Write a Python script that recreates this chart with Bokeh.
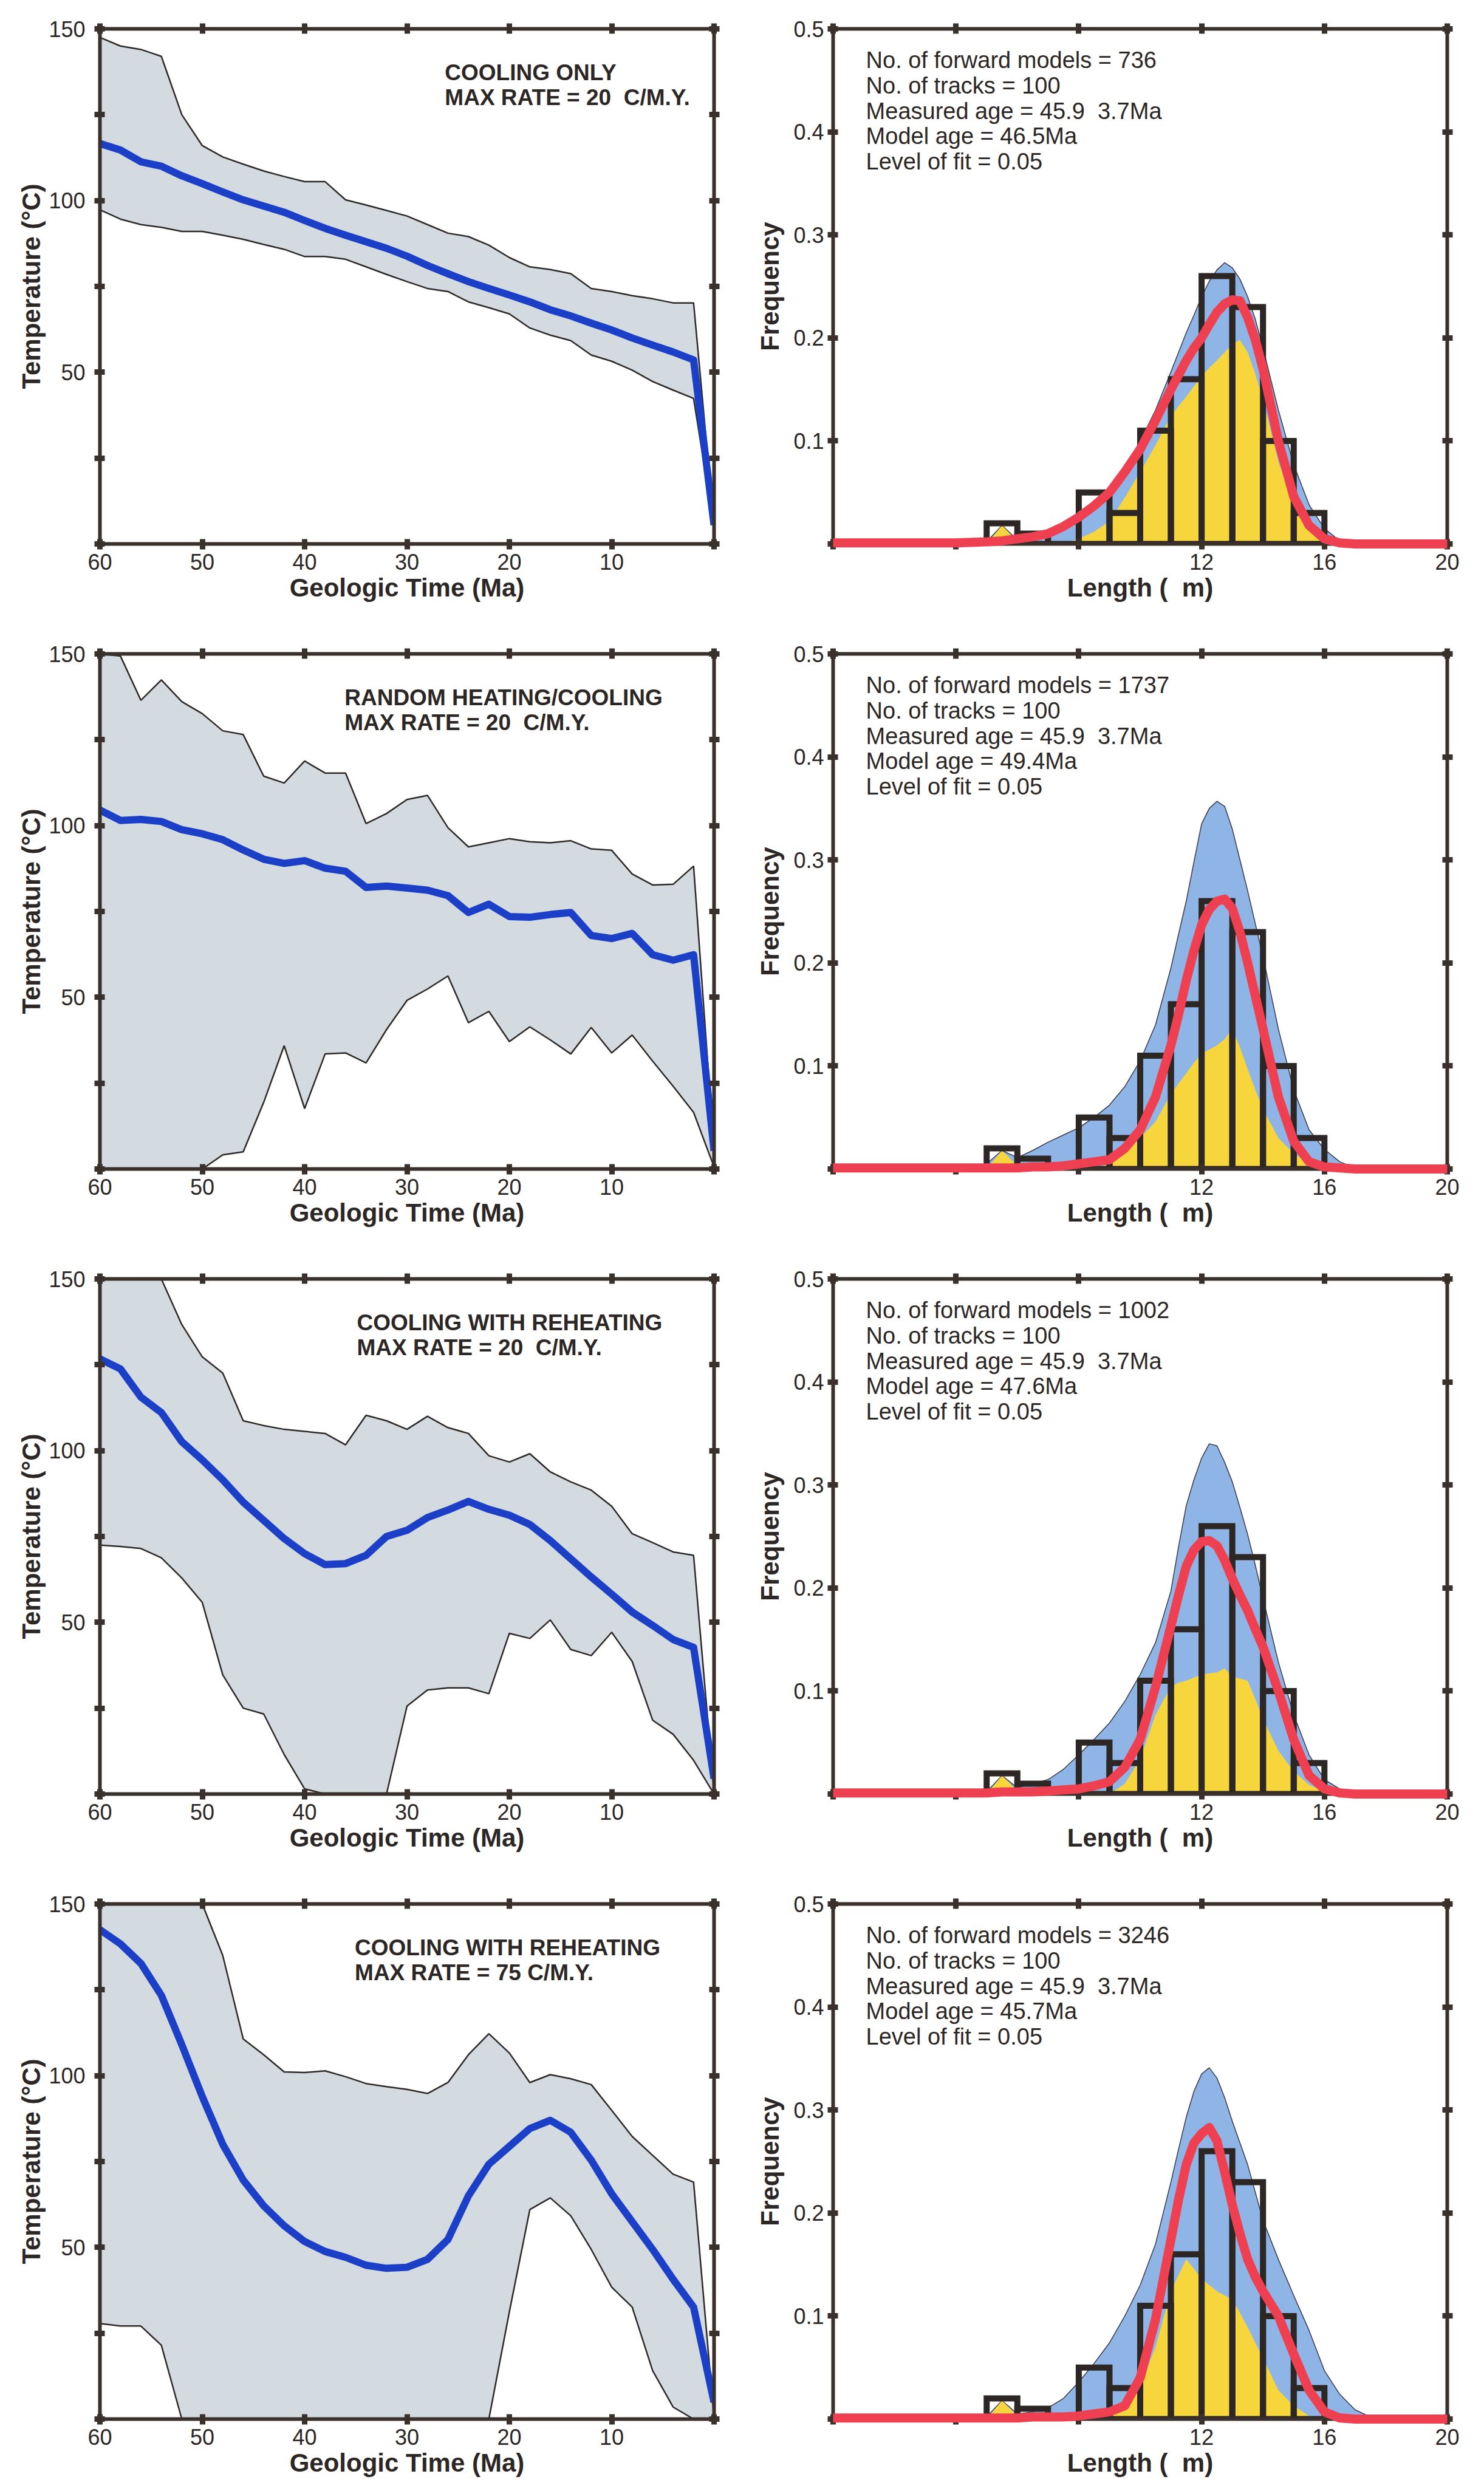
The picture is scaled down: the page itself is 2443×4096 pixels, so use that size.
from bokeh.plotting import figure
from bokeh.layouts import column, row
from bokeh.models import Range1d, LinearAxis, FixedTicker, Label
from bokeh.embed import file_html
from bokeh.resources import INLINE

# ---------------- data: thermal histories (left column) ----------------
TIME_MA = [60, 58, 56, 54, 52, 50, 48, 46, 44, 42, 40, 38, 36, 34, 32, 30,
           28, 26, 24, 22, 20, 18, 16, 14, 12, 10, 8, 6, 4, 2, 0]

P1_UPPER = [147.5, 145, 144, 142, 125, 116, 112.7, 110.6, 108.6, 107, 105.5, 105.5, 100.2, 98.7, 97.1, 95.5,
            93, 90.5, 89.5, 87, 83.4, 80.7, 79.9, 78.7, 74.4, 73.5, 72.3, 71.4, 70.2, 70.2, 5.5]
P1_LOWER = [97.3, 94.6, 93, 92.2, 91, 91, 89.9, 88.7, 87.2, 85.8, 83.7, 83.7, 82.9, 80.7, 78.5, 76.4,
            74.4, 73.5, 70.5, 68.8, 67, 62.9, 60.8, 59.2, 55, 53.2, 50.6, 47.3, 44.8, 42.4, 5]
P1_MEAN = [116.6, 114.7, 111.3, 110, 107.2, 104.9, 102.5, 100.2, 98.4, 96.6, 94.2, 91.9, 89.9, 88, 86.1, 83.8,
           81.1, 78.7, 76.4, 74.4, 72.5, 70.5, 68.2, 66.4, 64.3, 62.3, 60, 57.9, 55.9, 53.6, 5.5]

P2_UPPER = [150, 149.4, 136.5, 142.4, 136.1, 132.6, 127.6, 126.5, 114.4, 112.4, 118.8, 115.3, 115.3, 100.6, 103.5, 107.6,
            108.8, 99.4, 93.8, 95, 96.2, 95.3, 95, 95.6, 93.2, 92.8, 85.9, 82.7, 82.9, 88.2, 5.3]
P2_LOWER = [0, 0, 0, 0, 0, 0, 4.1, 5, 19.4, 35.9, 17.6, 33.5, 33.8, 30.9, 40.6, 49.1,
            52.4, 56.2, 42.6, 45.9, 37.1, 41.4, 37.6, 33.5, 41.2, 33.8, 39, 31.4, 24.1, 16.5, 0.6]
P2_MEAN = [104.5, 101.5, 101.8, 101.2, 98.8, 97.6, 95.9, 92.9, 90.2, 89, 89.8, 87.6, 86.7, 82, 82.4, 81.8,
           81.2, 79.6, 74.7, 77.1, 73.5, 73.3, 74.1, 74.7, 68, 67.1, 68.6, 62.4, 60.8, 62.4, 5.3]

P3_UPPER = [150, 150, 150, 150, 136.7, 127.3, 122.6, 108.7, 107.3, 106.2, 105.6, 105, 101.7, 110.3, 108.7, 106.2,
            110, 106.7, 105, 98.5, 96.7, 99.1, 93.8, 90.9, 88.5, 83.8, 75.8, 73.2, 70.5, 69.5, 0.3]
P3_LOWER = [72.5, 72.1, 71.5, 68.8, 62.9, 55.8, 34.7, 25, 23.3, 11.5, 1.5, 0, 0, 0, 0, 25.6,
            30.3, 30.9, 30.9, 29.2, 46.8, 45.3, 50.7, 42.1, 40.3, 47.1, 38.6, 21.5, 17.4, 9.8, 0]
P3_MEAN = [126.7, 123.8, 115.6, 111.1, 102.6, 97.3, 91.5, 85, 79.7, 74.4, 70, 66.8, 67.1, 69.5, 75, 76.8,
           80.5, 82.7, 85.2, 82.9, 81.2, 78.5, 73.8, 68.5, 63.2, 58.2, 53, 49.1, 45, 42.7, 4.5]

P4_UPPER = [150, 150, 150, 150, 150, 150, 135, 110.7, 106.1, 101.1, 100.9, 101.4, 99.7, 97.7, 96.8, 96,
            94.8, 98, 106.1, 112.2, 106.6, 98, 100.3, 99.1, 97.4, 89.9, 82.3, 76.8, 71.3, 69, 0.2]
P4_LOWER = [27.8, 27.1, 27.1, 21.5, 0, 0, 0, 0, 0, 0, 0, 0, 0, 0, 0, 0,
            0, 0, 0, 0, 31.2, 61, 64.4, 59.2, 49.4, 38.4, 32.6, 14.1, 3.5, 0, 0]
P4_MEAN = [142.5, 138.4, 132.7, 123.4, 109, 93.9, 80, 69.6, 62.1, 56.3, 51.7, 48.8, 47.1, 44.8, 43.9, 44.2,
           46.5, 52.3, 65, 74.2, 79.4, 84.6, 87, 83.5, 75.4, 65.6, 57.5, 49.4, 40.7, 32.6, 4.9]

# ---------------- data: track-length distributions (right column) ----------------
LENGTH_UM = [0, 4, 5, 5.5, 6, 6.5, 7, 7.5, 8, 8.5, 9, 9.5, 10, 10.5, 11, 11.25, 11.5, 11.75,
             12, 12.25, 12.5, 12.75, 13, 13.25, 13.5, 13.75, 14, 14.5, 15, 15.5, 16, 16.5, 17, 17.5, 18, 20]

R1_UPPER = [0, 0, 0.002, 0.018, 0.004, 0.006, 0.01, 0.015, 0.022, 0.035, 0.05, 0.072, 0.10, 0.13, 0.167, 0.186, 0.205, 0.222,
            0.24, 0.255, 0.266, 0.273, 0.268, 0.257, 0.24, 0.218, 0.19, 0.13, 0.077, 0.038, 0.015, 0.003, 0, 0, 0, 0]
R1_LOWER = [0, 0, 0, 0.018, 0.002, 0, 0, 0, 0.005, 0.012, 0.022, 0.045, 0.07, 0.096, 0.124, 0.134, 0.143, 0.153,
            0.163, 0.171, 0.178, 0.186, 0.194, 0.198, 0.186, 0.165, 0.14, 0.08, 0.038, 0.014, 0.003, 0, 0, 0, 0, 0]
R1_FIT = [0.001, 0.001, 0.002, 0.003, 0.005, 0.007, 0.01, 0.017, 0.026, 0.037, 0.05, 0.07, 0.092, 0.12, 0.15, 0.164, 0.178, 0.19,
          0.20, 0.213, 0.225, 0.233, 0.237, 0.236, 0.22, 0.198, 0.17, 0.10, 0.046, 0.018, 0.005, 0.001, 0, 0, 0, 0]

R2_UPPER = [0, 0, 0.005, 0.018, 0.011, 0.018, 0.026, 0.033, 0.04, 0.05, 0.062, 0.08, 0.105, 0.14, 0.195, 0.228, 0.26, 0.298,
            0.335, 0.35, 0.357, 0.352, 0.33, 0.30, 0.27, 0.238, 0.206, 0.136, 0.077, 0.038, 0.019, 0.007, 0.001, 0, 0, 0]
R2_LOWER = [0, 0, 0, 0.018, 0.003, 0, 0, 0, 0, 0, 0.005, 0.015, 0.03, 0.046, 0.073, 0.083, 0.093, 0.103,
            0.112, 0.116, 0.12, 0.126, 0.136, 0.118, 0.097, 0.077, 0.058, 0.03, 0.015, 0.005, 0, 0, 0, 0, 0, 0]
R2_FIT = [0.001, 0.001, 0.001, 0.001, 0.001, 0.002, 0.002, 0.003, 0.005, 0.007, 0.009, 0.02, 0.038, 0.07, 0.12, 0.15, 0.183, 0.212,
          0.237, 0.252, 0.26, 0.262, 0.253, 0.23, 0.20, 0.168, 0.136, 0.07, 0.027, 0.007, 0.002, 0.001, 0, 0, 0, 0]

R3_UPPER = [0, 0, 0.002, 0.018, 0.006, 0.01, 0.014, 0.024, 0.038, 0.053, 0.069, 0.09, 0.116, 0.147, 0.197, 0.24, 0.28, 0.305,
            0.326, 0.34, 0.338, 0.322, 0.303, 0.278, 0.252, 0.222, 0.19, 0.128, 0.077, 0.038, 0.014, 0.005, 0.001, 0, 0, 0]
R3_LOWER = [0, 0, 0, 0.018, 0.003, 0, 0, 0, 0, 0, 0, 0.01, 0.034, 0.077, 0.104, 0.108, 0.11, 0.113,
            0.116, 0.117, 0.118, 0.122, 0.114, 0.112, 0.11, 0.092, 0.073, 0.042, 0.022, 0.009, 0.002, 0, 0, 0, 0, 0]
R3_FIT = [0.001, 0.001, 0.001, 0.002, 0.002, 0.002, 0.003, 0.004, 0.005, 0.008, 0.012, 0.026, 0.053, 0.104, 0.163, 0.193, 0.221, 0.237,
          0.245, 0.246, 0.241, 0.227, 0.209, 0.193, 0.178, 0.16, 0.143, 0.10, 0.053, 0.018, 0.005, 0.001, 0, 0, 0, 0]

R4_UPPER = [0, 0, 0.002, 0.018, 0.005, 0.007, 0.011, 0.02, 0.036, 0.054, 0.074, 0.1, 0.13, 0.17, 0.23, 0.262, 0.293, 0.318,
            0.335, 0.341, 0.331, 0.312, 0.289, 0.268, 0.247, 0.22, 0.193, 0.155, 0.12, 0.086, 0.047, 0.024, 0.009, 0.002, 0, 0]
R4_LOWER = [0, 0, 0, 0.018, 0.003, 0, 0, 0, 0, 0, 0.003, 0.009, 0.032, 0.07, 0.124, 0.14, 0.155, 0.146,
            0.136, 0.13, 0.124, 0.12, 0.116, 0.103, 0.089, 0.074, 0.059, 0.028, 0.013, 0.003, 0, 0, 0, 0, 0, 0]
R4_FIT = [0.001, 0.001, 0.001, 0.001, 0.001, 0.002, 0.002, 0.002, 0.003, 0.005, 0.007, 0.013, 0.04, 0.097, 0.174, 0.213, 0.247, 0.268,
          0.277, 0.283, 0.27, 0.24, 0.208, 0.18, 0.155, 0.138, 0.124, 0.10, 0.063, 0.028, 0.007, 0.001, 0, 0, 0, 0]

# measured track-length histogram (same sample in every panel)
BIN_LEFT = [5, 6, 7, 8, 9, 10, 11, 12, 13, 14, 15]
BIN_RIGHT = [6, 7, 8, 9, 10, 11, 12, 13, 14, 15, 16]
MEASURED_FREQ = [0.02, 0.01, 0, 0.05, 0.03, 0.11, 0.16, 0.26, 0.23, 0.10, 0.03]

# ---------------- texts ----------------
TITLE_1 = ["COOLING ONLY", "RANDOM HEATING/COOLING", "COOLING WITH REHEATING", "COOLING WITH REHEATING"]
TITLE_2 = ["MAX RATE = 20\u00a0 C/M.Y.", "MAX RATE = 20\u00a0 C/M.Y.",
           "MAX RATE = 20\u00a0 C/M.Y.", "MAX RATE = 75\u00a0C/M.Y."]
N_MODELS = [736, 1737, 1002, 3246]
MODEL_AGE = ["46.5", "49.4", "47.6", "45.7"]
N_TRACKS = 100
MEASURED_AGE = "45.9\u00a0 3.7Ma"
LEVEL_OF_FIT = "0.05"

TIME_TICKS = [0, 10, 20, 30, 40, 50, 60]
TIME_LABELS = {0: "", 10: "10", 20: "20", 30: "30", 40: "40", 50: "50", 60: "60"}
TEMP_TICKS = [0, 25, 50, 75, 100, 125, 150]
TEMP_LABELS = {0: "", 25: "", 50: "50", 75: "", 100: "100", 125: "", 150: "150"}
LEN_TICKS = [0, 4, 8, 12, 16, 20]
LEN_LABELS = {0: "", 4: "", 8: "", 12: "12", 16: "16", 20: "20"}
FREQ_TICKS = [0, 0.1, 0.2, 0.3, 0.4, 0.5]
FREQ_LABELS = {0: "", 0.1: "0.1", 0.2: "0.2", 0.3: "0.3", 0.4: "0.4", 0.5: "0.5"}

LEFT_PANELS = [(P1_UPPER, P1_LOWER, P1_MEAN), (P2_UPPER, P2_LOWER, P2_MEAN),
               (P3_UPPER, P3_LOWER, P3_MEAN), (P4_UPPER, P4_LOWER, P4_MEAN)]
RIGHT_PANELS = [(R1_UPPER, R1_LOWER, R1_FIT), (R2_UPPER, R2_LOWER, R2_FIT),
                (R3_UPPER, R3_LOWER, R3_FIT), (R4_UPPER, R4_LOWER, R4_FIT)]
TITLE_X = [26.3, 36.1, 34.9, 35.1]

# ---------------- styles ----------------
FONT = "Liberation Sans"
INK = "#2c2624"
AXIS = "#3a312d"
ENV_FILL = "#d3dae0"
MEAN_BLUE = "#1b3fc6"
UP_BLUE = "#8fb5e6"
LOW_YELLOW = "#f6d63c"
FIT_RED = "#ee4050"

FRAME_W, FRAME_H = 1011, 848


def style_axis(ax, ticks, labels, standoff, label_standoff, shown=True):
    ax.ticker = FixedTicker(ticks=ticks)
    ax.axis_line_color = AXIS
    ax.axis_line_width = 6
    ax.major_tick_line_color = AXIS
    ax.major_tick_line_width = 9
    ax.major_tick_in = 8
    ax.major_tick_out = 9
    ax.minor_tick_line_color = None
    ax.major_label_text_font = FONT
    ax.major_label_text_color = INK
    ax.major_label_standoff = standoff
    ax.axis_label_text_font = FONT
    ax.axis_label_text_font_style = "bold"
    ax.axis_label_text_font_size = "42px"
    ax.axis_label_text_color = INK
    ax.axis_label_standoff = label_standoff
    if shown:
        ax.major_label_text_font_size = "36px"
        ax.major_label_overrides = labels
    else:
        ax.major_label_text_font_size = "1px"
        ax.major_label_overrides = {t: "" for t in ticks}


def base_fig(width, height, left, right, top, bottom, xr, yr):
    p = figure(width=width, height=height, x_range=xr, y_range=yr,
               output_backend="svg", toolbar_location=None,
               min_border_left=left, min_border_right=right,
               min_border_top=top, min_border_bottom=bottom)
    p.xgrid.visible = False
    p.ygrid.visible = False
    p.outline_line_color = None
    p.background_fill_color = "white"
    p.border_fill_color = "white"
    return p


def left_panel(i, top, bottom):
    upper, lower, mean = LEFT_PANELS[i]
    p = base_fig(164 + FRAME_W + 50, top + FRAME_H + bottom, 164, 50, top, bottom,
                 Range1d(60, 0), Range1d(0, 150))
    style_axis(p.xaxis[0], TIME_TICKS, TIME_LABELS, 7, 3)
    style_axis(p.yaxis[0], TEMP_TICKS, TEMP_LABELS, 15, 2)
    p.xaxis[0].axis_label = "Geologic Time (Ma)"
    p.yaxis[0].axis_label = "Temperature (\u00b0C)"
    ax_top = LinearAxis()
    style_axis(ax_top, TIME_TICKS, TIME_LABELS, 0, 0, shown=False)
    p.add_layout(ax_top, "above")
    ax_rgt = LinearAxis()
    style_axis(ax_rgt, TEMP_TICKS, TEMP_LABELS, 0, 0, shown=False)
    p.add_layout(ax_rgt, "right")

    p.patch(TIME_MA + TIME_MA[::-1], upper + lower[::-1],
            fill_color=ENV_FILL, line_color="#2e2927", line_width=2.5)
    p.line(TIME_MA, mean, line_color=MEAN_BLUE, line_width=12, line_join="round")

    for txt, yv in ((TITLE_1[i], 137.3), (TITLE_2[i], 130.0)):
        p.add_layout(Label(x=TITLE_X[i], y=yv, text=txt, text_font=FONT,
                           text_font_size="37px", text_font_style="bold",
                           text_color=INK, text_baseline="alphabetic", text_align="left"))
    return p


def right_panel(i, top, bottom):
    upper, lower, fit = RIGHT_PANELS[i]
    p = base_fig(146 + FRAME_W + 40, top + FRAME_H + bottom, 146, 40, top, bottom,
                 Range1d(0, 20), Range1d(0, 0.5))
    style_axis(p.xaxis[0], LEN_TICKS, LEN_LABELS, 7, 3)
    style_axis(p.yaxis[0], FREQ_TICKS, FREQ_LABELS, 6, 12)
    p.xaxis[0].axis_label = "Length (\u00a0\u00a0m)"
    p.yaxis[0].axis_label = "Frequency"
    ax_top = LinearAxis()
    style_axis(ax_top, LEN_TICKS, LEN_LABELS, 0, 0, shown=False)
    p.add_layout(ax_top, "above")
    ax_rgt = LinearAxis()
    style_axis(ax_rgt, FREQ_TICKS, FREQ_LABELS, 0, 0, shown=False)
    p.add_layout(ax_rgt, "right")

    p.varea(x=LENGTH_UM, y1=[0] * len(LENGTH_UM), y2=upper, fill_color=UP_BLUE)
    p.line(LENGTH_UM, upper, line_color="#3a3a4a", line_width=1.5)
    p.varea(x=LENGTH_UM, y1=[0] * len(LENGTH_UM), y2=lower, fill_color=LOW_YELLOW)
    p.quad(left=BIN_LEFT, right=BIN_RIGHT, bottom=[0] * len(BIN_LEFT), top=MEASURED_FREQ,
           fill_color=None, line_color=INK, line_width=10, line_join="miter")
    p.line(LENGTH_UM, fit, line_color=FIT_RED, line_width=15, line_join="round",
           level="overlay")

    lines = ["No. of forward models = %d" % N_MODELS[i],
             "No. of tracks = %d" % N_TRACKS,
             "Measured age = " + MEASURED_AGE,
             "Model age = " + MODEL_AGE[i] + "Ma",
             "Level of fit = " + LEVEL_OF_FIT]
    for k, txt in enumerate(lines):
        p.add_layout(Label(x=1.07, y=0.4695 - 0.0246 * k, text=txt, text_font=FONT,
                           text_font_size="38px", text_color=INK,
                           text_baseline="alphabetic", text_align="left"))
    return p


ROW_BORDERS = [(47, 142), (39, 142), (39, 142), (39, 114)]
rows = []
for i, (tb, bb) in enumerate(ROW_BORDERS):
    rows.append(row(left_panel(i, tb, bb), right_panel(i, tb, bb)))

layout = column(*rows)
open("out.html", "w").write(file_html(layout, INLINE))
